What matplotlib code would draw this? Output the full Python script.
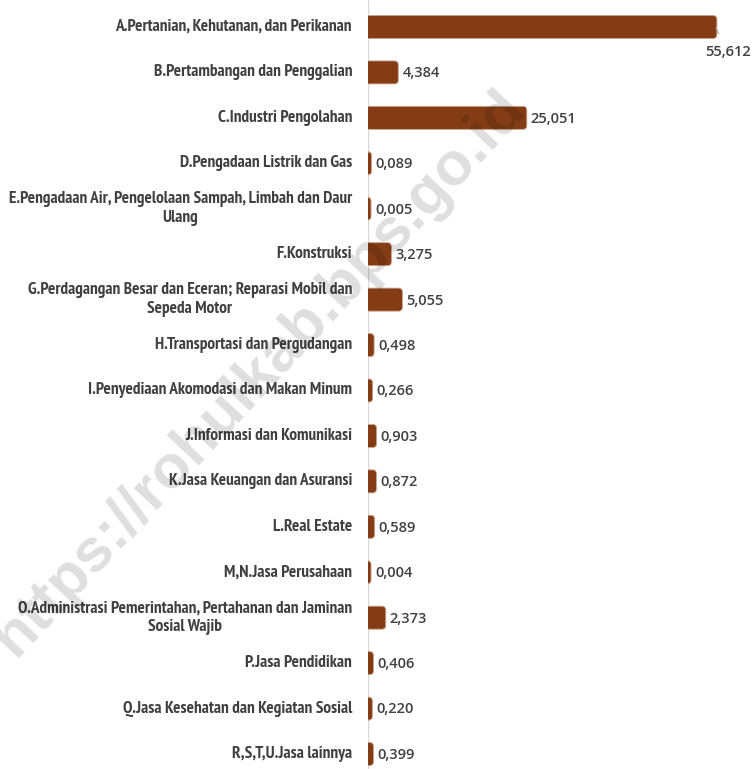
import numpy as np
import matplotlib.pyplot as plt
from matplotlib.patches import FancyBboxPatch

# data
categories = [
    "A.Pertanian, Kehutanan, dan Perikanan",
    "B.Pertambangan dan Penggalian",
    "C.Industri Pengolahan",
    "D.Pengadaan Listrik dan Gas",
    "E.Pengadaan Air, Pengelolaan Sampah, Limbah dan Daur\nUlang",
    "F.Konstruksi",
    "G.Perdagangan Besar dan Eceran; Reparasi Mobil dan\nSepeda Motor",
    "H.Transportasi dan Pergudangan",
    "I.Penyediaan Akomodasi dan Makan Minum",
    "J.Informasi dan Komunikasi",
    "K.Jasa Keuangan dan Asuransi",
    "L.Real Estate",
    "M,N.Jasa Perusahaan",
    "O.Administrasi Pemerintahan, Pertahanan dan Jaminan\nSosial Wajib",
    "P.Jasa Pendidikan",
    "Q.Jasa Kesehatan dan Kegiatan Sosial",
    "R,S,T,U.Jasa lainnya",
]
values = [55.612, 4.384, 25.051, 0.089, 0.005, 3.275, 5.055, 0.498, 0.266,
          0.903, 0.872, 0.589, 0.004, 2.373, 0.406, 0.220, 0.399]

BAR_COLOR = "#843C15"
TEXT_COLOR = "#404040"
W, H = 753, 769

fig = plt.figure(figsize=(W / 100, H / 100), dpi=100)
ax = fig.add_axes([368 / W, 0, (W - 368) / W, 1])

xmax = 61.9
ax.set_xlim(0, xmax)
ax.set_ylim(16.33, -0.594)
px_x = (W - 368) / xmax          # pixels per x unit
px_y = H / (16.33 + 0.594)       # pixels per category

y = np.arange(len(categories))
pad_px = 3.0
bar_h_px = 23.0
pad = pad_px / px_x
aspect = px_x / px_y
bh = (bar_h_px - 2 * pad_px) / px_y

bars = ax.barh(y, values, height=bh, color=BAR_COLOR)
for b in bars:
    x0, y0 = b.get_x(), b.get_y()
    w, h = b.get_width(), b.get_height()
    b.remove()
    p = FancyBboxPatch((x0, y0), w, h,
                       boxstyle=f"round,pad={pad},rounding_size={pad * 1.3}",
                       mutation_aspect=aspect, facecolor=BAR_COLOR,
                       edgecolor="#c9a48c", linewidth=0.6, zorder=3)
    ax.add_patch(p)

ax.axvline(0, color="#d9d9d9", linewidth=1.0, zorder=2)

for s in ax.spines.values():
    s.set_visible(False)
ax.set_xticks([])
ax.set_yticks([])

# category labels
for yi, cat in zip(y, categories):
    ax.text(-16 / px_x, yi, cat, ha="right", va="center", multialignment="center",
            fontsize=12.4, fontweight="bold", family="PT Sans Narrow",
            color=TEXT_COLOR, linespacing=1.22)

# value labels
for yi, v in zip(y, values):
    lbl = f"{v:.3f}".replace(".", ",")
    if yi == 0:
        ax.annotate(lbl, xy=(v + pad - 1 / px_x, yi + 0.02),
                    xytext=(v + pad + 11 / px_x, yi + 0.55),
                    ha="center", va="center", fontsize=10.5, fontweight="semibold",
                    family="Open Sans", color=TEXT_COLOR,
                    arrowprops=dict(arrowstyle="-", color="#a6a6a6", lw=0.8,
                                    shrinkA=7, shrinkB=0))
    else:
        ax.text(v + pad + 4 / px_x, yi + 0.02, lbl, ha="left", va="center",
                fontsize=10.5, fontweight="semibold", family="Open Sans",
                color=TEXT_COLOR)

# watermark
fig.text(0.345, 0.515, "https://rohulkab.bps.go.id", rotation=47, ha="center",
         va="center", fontsize=44, fontweight="bold", family="Liberation Sans",
         color="black", alpha=0.13, zorder=10)

fig.savefig("out.png", dpi=100)
